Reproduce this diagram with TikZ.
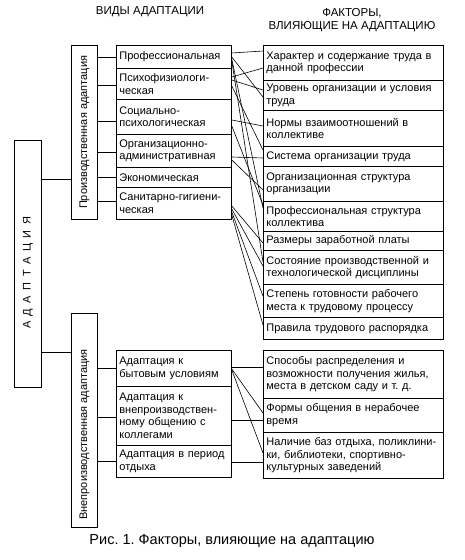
\documentclass[tikz,border=0pt]{standalone}
\usepackage{fontspec}
\usepackage{graphicx}
\setmainfont{Liberation Sans}
\frenchspacing
\begin{document}
\begin{tikzpicture}[x=1pt,y=1pt,
  box/.style={draw, line width=0.8pt, anchor=north west, inner xsep=3pt, inner ysep=0pt, align=left, font=\fontsize{11}{12.6}\selectfont},
  mbox/.style={box, text width=109pt, minimum height=#1},
  rbox/.style={box, text width=174pt, minimum height=#1},
  sidebox/.style={draw, line width=0.8pt, anchor=north west, inner sep=0pt, font=\fontsize{11}{13}\selectfont},
  head/.style={font=\fontsize{11.5}{13}\selectfont, align=center},
  conn/.style={line width=0.6pt}]
\useasboundingbox (0,0) rectangle (464,-560);

% headers
\node[head] (h1) at (150,-12) {ВИДЫ АДАПТАЦИИ};
\node[head] (h2) at (352,-20) {ФАКТОРЫ,\\ВЛИЯЮЩИЕ НА АДАПТАЦИЮ};

% left boxes
\node[sidebox, minimum width=27pt, minimum height=247pt] (adapt) at (14,-140)
  {\rotatebox{90}{\fontsize{11}{13}\selectfont А\hspace{5.5pt}Д\hspace{5.5pt}А\hspace{5.5pt}П\hspace{5.5pt}Т\hspace{5.5pt}А\hspace{5.5pt}Ц\hspace{5.5pt}И\hspace{5.5pt}Я\hspace{18pt}}};
\node[sidebox, minimum width=26pt, minimum height=174pt] (prod) at (71,-45)
  {\rotatebox{90}{Производственная адаптация}};
\node[sidebox, minimum width=26pt, minimum height=214pt] (vne) at (71,-313)
  {\rotatebox{90}{Внепроизводственная адаптация\hspace{28pt}}};

% middle column (upper)
\node[mbox=23pt] (m1) at (116,-45) {Профессиональная};
\node[mbox=31pt] (m2) at (116,-68) {Психофизиологи-\\ческая};
\node[mbox=35pt] (m3) at (116,-99) {Социально-\\психологическая};
\node[mbox=33pt] (m4) at (116,-134) {Организационно-\\административная};
\node[mbox=20pt] (m5) at (116,-167) {Экономическая};
\node[mbox=32pt] (m6) at (116,-187) {Санитарно-гигиени-\\ческая};

% middle column (lower)
\node[mbox=36pt] (b1) at (116,-350) {Адаптация к\\бытовым условиям};
\node[mbox=59pt] (b2) at (116,-386) {Адаптация к\\внепроизводствен-\\ному общению с\\коллегами};
\node[mbox=32pt] (b3) at (116,-445) {Адаптация в период\\отдыха};

% right column (upper)
\node[rbox=35pt] (r1) at (263,-45) {Характер и содержание труда в\\данной профессии};
\node[rbox=30pt] (r2) at (263,-80) {Уровень организации и условия\\труда};
\node[rbox=36pt] (r3) at (263,-110) {Нормы взаимоотношений в\\коллективе};
\node[rbox=20pt] (r4) at (263,-146) {Система организации труда};
\node[rbox=35pt] (r5) at (263,-166) {Организационная структура\\организации};
\node[rbox=30pt] (r6) at (263,-201) {Профессиональная структура\\коллектива};
\node[rbox=19pt] (r7) at (263,-231) {Размеры заработной платы};
\node[rbox=34pt] (r8) at (263,-250) {Состояние производственной и\\технологической дисциплины};
\node[rbox=33pt] (r9) at (263,-284) {Степень готовности рабочего\\места к трудовому процессу};
\node[rbox=22pt] (r10) at (263,-317) {Правила трудового распорядка};

% right column (lower)
\node[rbox=48pt] (s1) at (263,-350) {Способы распределения и\\возможности получения жилья,\\места в детском саду и т. д.};
\node[rbox=34pt] (s2) at (263,-398) {Формы общения в нерабочее\\время};
\node[rbox=46pt] (s3) at (263,-432) {Наличие баз отдыха, поликлини-\\ки, библиотеки, спортивно-\\культурных заведений};

% left connectors
\draw[conn] (adapt.east |- 0,-179) -- (prod.west |- 0,-179);
\draw[conn] (adapt.east |- 0,-352) -- (vne.west |- 0,-352);
\draw[conn] (prod.east |- 0,-57) -- (m1.west |- 0,-57);
\draw[conn] (prod.east |- 0,-85) -- (m2.west |- 0,-85);
\draw[conn] (prod.east |- 0,-121) -- (m3.west |- 0,-121);
\draw[conn] (prod.east |- 0,-152) -- (m4.west |- 0,-152);
\draw[conn] (prod.east |- 0,-177) -- (m5.west |- 0,-177);
\draw[conn] (prod.east |- 0,-201) -- (m6.west |- 0,-201);
\draw[conn] (vne.east |- 0,-368) -- (b1.west |- 0,-368);
\draw[conn] (vne.east |- 0,-417) -- (b2.west |- 0,-417);
\draw[conn] (vne.east |- 0,-461) -- (b3.west |- 0,-461);

% middle-right connectors (upper)
\draw[conn] (m1.east |- 0,-53) -- (r1.west |- 0,-51);
\draw[conn] (m1.east |- 0,-57) -- (r2.west |- 0,-97);
\draw[conn] (m1.east |- 0,-59) -- (r6.west |- 0,-208);
\draw[conn] (m1.east |- 0,-61) -- (r8.west |- 0,-262);
\draw[conn] (m2.east |- 0,-77) -- (r1.west |- 0,-68);
\draw[conn] (m2.east |- 0,-80) -- (r2.west |- 0,-90);
\draw[conn] (m2.east |- 0,-86) -- (r4.west |- 0,-150);
\draw[conn] (m3.east |- 0,-120) -- (r3.west |- 0,-126);
\draw[conn] (m3.east |- 0,-126) -- (r6.west |- 0,-205);
\draw[conn] (m4.east |- 0,-157) -- (r4.west |- 0,-158);
\draw[conn] (m4.east |- 0,-160) -- (r5.west |- 0,-190);
\draw[conn] (m6.east |- 0,-206) -- (r7.west |- 0,-243);
\draw[conn] (m6.east |- 0,-209) -- (r8.west |- 0,-266);
\draw[conn] (m6.east |- 0,-212) -- (r9.west |- 0,-296);
\draw[conn] (m6.east |- 0,-215) -- (r10.west |- 0,-325);

% middle-right connectors (lower)
\draw[conn] (b1.east |- 0,-367) -- (s1.west |- 0,-367);
\draw[conn] (b1.east |- 0,-369) -- (s2.west |- 0,-413);
\draw[conn] (b1.east |- 0,-370) -- (s3.west |- 0,-453);
\draw[conn] (b2.east |- 0,-420) -- (s2.west |- 0,-420);
\draw[conn] (b3.east |- 0,-462) -- (s3.west |- 0,-462);

% caption
\node[font=\fontsize{14.5}{17}\selectfont] (cap) at (232,-541) {Рис. 1. Факторы, влияющие на адаптацию};
\end{tikzpicture}
\end{document}
